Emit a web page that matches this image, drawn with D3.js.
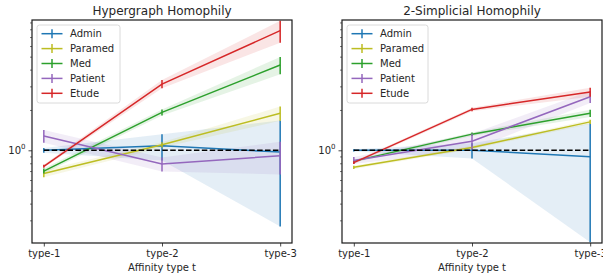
<!DOCTYPE html>
<html><head><meta charset="utf-8">
<script src="https://cdn.jsdelivr.net/npm/d3@7"></script>
<style>body{margin:0;background:#fff}svg{display:block;font-family:"DejaVu Sans",sans-serif}</style>
</head><body>
<svg id="c" width="603" height="276"></svg>
<script>
const categories = ["type-1", "type-2", "type-3"];
const seriesNames = ["Admin", "Paramed", "Med", "Patient", "Etude"];
const seriesColors = ["#1f77b4", "#bcbd22", "#2ca02c", "#9467bd", "#d62728"];
const panelTitles = ["Hypergraph Homophily", "2-Simplicial Homophily"];
const xLabel = "Affinity type t";

// Hypergraph homophily: means and (symmetric) errors
const hyperAdmin = [1.00, 1.08, 0.97], hyperAdminErr = [0.04, 0.24, 0.70];
const hyperParamed = [0.67, 1.10, 1.89], hyperParamedErr = [0.04, 0.05, 0.23];
const hyperMed = [0.70, 1.92, 4.33], hyperMedErr = [0.03, 0.10, 0.64];
const hyperPatient = [1.28, 0.79, 0.91], hyperPatientErr = [0.14, 0.095, 0.25];
const hyperEtude = [0.76, 3.12, 7.81], hyperEtudeErr = [0.02, 0.22, 1.45];

// 2-simplicial homophily
const simpAdmin = [1.00, 1.00, 0.896], simpAdminErr = [0.02, 0.13, 0.69];
const simpParamed = [0.746, 1.05, 1.63], simpParamedErr = [0.02, 0.03, 0.06];
const simpMed = [0.83, 1.32, 1.89], simpMedErr = [0.02, 0.04, 0.12];
const simpPatient = [0.84, 1.17, 2.51], simpPatientErr = [0.05, 0.16, 0.26];
const simpEtude = [0.81, 2.02, 2.72], simpEtudeErr = [0.02, 0.06, 0.21];

const baseline = 1;
const yDomain = [0.2033, 9.385];

(function () {
const panels = [
  {title: panelTitles[0], means: [hyperAdmin, hyperParamed, hyperMed, hyperPatient, hyperEtude],
   errs: [hyperAdminErr, hyperParamedErr, hyperMedErr, hyperPatientErr, hyperEtudeErr], x0: 32},
  {title: panelTitles[1], means: [simpAdmin, simpParamed, simpMed, simpPatient, simpEtude],
   errs: [simpAdminErr, simpParamedErr, simpMedErr, simpPatientErr, simpEtudeErr], x0: 342}
];

const svg = d3.select("#c");
const W = 260, pTop = 20, pBottom = 243;
const y = d3.scaleLog().domain(yDomain).range([pBottom, pTop]);
const spine = "#1a1a1a";
const txt = "#262626";

panels.forEach((p, pi) => {
  const x = d3.scaleLinear().domain([-0.1, 2.1]).range([p.x0, p.x0 + W]);
  const g = svg.append("g");
  const clipId = "clip" + pi;
  svg.append("clipPath").attr("id", clipId).append("rect")
    .attr("x", p.x0).attr("y", pTop).attr("width", W).attr("height", pBottom - pTop);
  const plot = g.append("g").attr("clip-path", `url(#${clipId})`);

  p.means.forEach((m, si) => {
    const e = p.errs[si];
    const pts = m.map((v, i) => ({i, lo: Math.max(v - e[i], 1e-3), hi: v + e[i]}));
    plot.append("path").datum(pts)
      .attr("d", d3.area().x(d => x(d.i)).y0(d => y(d.lo)).y1(d => y(d.hi)))
      .attr("fill", seriesColors[si]).attr("fill-opacity", 0.12).attr("stroke", "none");
  });
  p.means.forEach((m, si) => {
    const e = p.errs[si];
    plot.append("path").datum(m)
      .attr("d", d3.line().x((d, i) => x(i)).y(d => y(d)))
      .attr("fill", "none").attr("stroke", seriesColors[si]).attr("stroke-width", 1.5);
    plot.selectAll(null).data(m).enter().append("line")
      .attr("x1", (d, i) => x(i)).attr("x2", (d, i) => x(i))
      .attr("y1", (d, i) => y(Math.max(d - e[i], 1e-3))).attr("y2", (d, i) => y(d + e[i]))
      .attr("stroke", seriesColors[si]).attr("stroke-width", 1.5);
  });
  plot.append("line").attr("x1", x(0)).attr("x2", x(2)).attr("y1", y(baseline)).attr("y2", y(baseline))
    .attr("stroke", "#000").attr("stroke-width", 1.5).attr("stroke-dasharray", "5.5,2.4");

  const xa = g.append("g").attr("transform", `translate(0,${pBottom})`)
    .call(d3.axisBottom(x).tickValues([0, 1, 2]).tickFormat(i => categories[i]).tickSize(3.5).tickPadding(3.5));
  xa.select(".domain").remove();
  xa.selectAll("line").attr("stroke", spine).attr("stroke-width", 0.8);
  xa.selectAll("text").attr("font-size", 10).attr("fill", txt).attr("font-family", "DejaVu Sans");

  const minor = [];
  [0.1, 1].forEach(b => { for (let k = 2; k <= 9; k++) { const v = b * k; if (v >= yDomain[0] && v <= yDomain[1]) minor.push(v); } });
  const ya = g.append("g").attr("transform", `translate(${p.x0},0)`)
    .call(d3.axisLeft(y).tickValues(minor).tickFormat("").tickSize(2));
  ya.select(".domain").remove();
  ya.selectAll("line").attr("stroke", spine).attr("stroke-width", 0.6);
  const yb = g.append("g").attr("transform", `translate(${p.x0},0)`)
    .call(d3.axisLeft(y).tickValues([1]).tickFormat("").tickSize(3.5));
  yb.select(".domain").remove();
  yb.selectAll("line").attr("stroke", spine).attr("stroke-width", 0.8);
  const lbl = g.append("text").attr("x", p.x0 - 6.5).attr("y", y(1) + 3.5)
    .attr("text-anchor", "end").attr("font-size", 10).attr("fill", txt);
  lbl.append("tspan").text("10");
  lbl.append("tspan").attr("dy", -4.5).attr("font-size", 7).text("0");

  g.append("rect").attr("x", p.x0).attr("y", pTop).attr("width", W).attr("height", pBottom - pTop)
    .attr("fill", "none").attr("stroke", spine).attr("stroke-width", 1.2);

  g.append("text").attr("x", p.x0 + W / 2).attr("y", 14.5).attr("text-anchor", "middle")
    .attr("font-size", 12).attr("fill", txt).text(p.title);
  g.append("text").attr("x", p.x0 + W / 2).attr("y", 271).attr("text-anchor", "middle")
    .attr("font-size", 10).attr("fill", txt).text(xLabel);

  const lx = p.x0 + 5, ly = 25;
  const lw = pi === 0 ? 83 : 81;
  const leg = g.append("g");
  leg.append("rect").attr("x", lx).attr("y", ly).attr("width", lw).attr("height", 78).attr("rx", 2.5)
    .attr("fill", "#fff").attr("fill-opacity", 0.85).attr("stroke", "#d0d0d0").attr("stroke-width", 0.8);
  seriesNames.forEach((n, si) => {
    const yy = ly + 8.7 + si * 14.9;
    leg.append("line").attr("x1", lx + 4.5).attr("x2", lx + 25.5).attr("y1", yy).attr("y2", yy)
      .attr("stroke", seriesColors[si]).attr("stroke-width", 1.5);
    leg.append("line").attr("x1", lx + 15).attr("x2", lx + 15).attr("y1", yy - 4.5).attr("y2", yy + 4.5)
      .attr("stroke", seriesColors[si]).attr("stroke-width", 1.5);
    leg.append("text").attr("x", lx + 33).attr("y", yy + 3.6).attr("font-size", 10).attr("fill", txt).text(n);
  });
});
})();
</script>
</body></html>
